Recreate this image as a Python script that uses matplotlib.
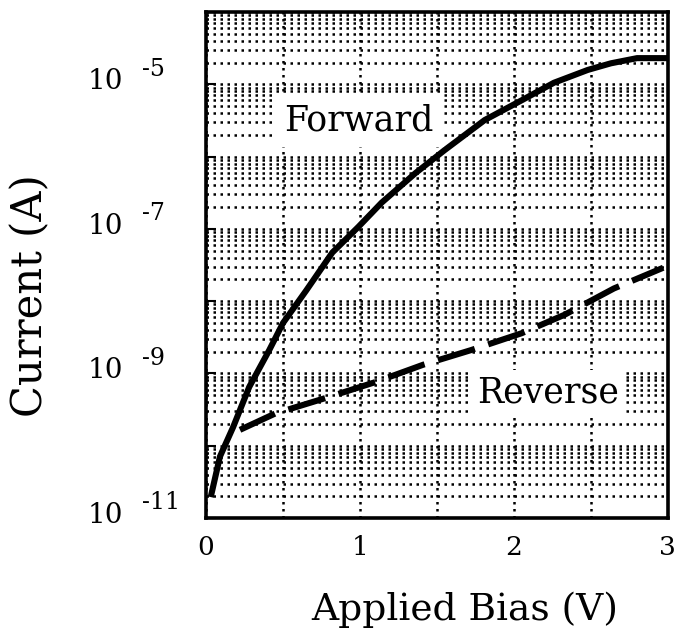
import numpy as np
import matplotlib.pyplot as plt
from matplotlib.ticker import LogLocator, MultipleLocator, NullFormatter

# values
bias_fwd = [0.03, 0.09, 0.175, 0.28, 0.41, 0.50, 0.65, 0.82, 0.99, 1.14,
            1.36, 1.55, 1.81, 2.05, 2.26, 2.48, 2.63, 2.80, 3.0]
cur_fwd = [1.95e-11, 7.1e-11, 1.8e-10, 6.5e-10, 2.1e-9, 5.0e-9, 1.4e-8, 4.7e-8,
           1.07e-7, 2.3e-7, 5.9e-7, 1.23e-6, 3.2e-6, 6.0e-6, 1.05e-5, 1.58e-5,
           1.95e-5, 2.3e-5, 2.3e-5]

bias_rev = [0.22, 0.45, 0.78, 1.10, 1.41, 1.72, 2.05, 2.33, 2.65, 2.97]
cur_rev = [1.66e-10, 2.8e-10, 4.6e-10, 7.6e-10, 1.32e-9, 2.1e-9, 3.6e-9,
           6.5e-9, 1.5e-8, 2.9e-8]

xticks = [0, 1, 2, 3]
ylabel_exps = [-5, -7, -9, -11]

serif = 'DejaVu Serif'
plt.rcParams['font.family'] = serif

fig = plt.figure(figsize=(6.78, 6.31), dpi=100)
ax = fig.add_axes([0.304, 0.179, 0.681, 0.802])
ax.set_yscale('log')
ax.set_xlim(0, 3)
ax.set_ylim(1e-11, 1e-4)

# grid: every decade and sub-decade line, verticals every 0.5 V
ax.yaxis.set_major_locator(LogLocator(base=10, numticks=20))
ax.yaxis.set_minor_locator(LogLocator(base=10, subs=np.arange(2, 10), numticks=20))
ax.yaxis.set_major_formatter(NullFormatter())
ax.yaxis.set_minor_formatter(NullFormatter())
ax.set_xticks(xticks)
ax.xaxis.set_minor_locator(MultipleLocator(0.5))
dots = (0, (1, 1.8))
ax.grid(which='both', axis='both', color='black', linestyle=dots, linewidth=1.8)

ax.tick_params(which='minor', length=0)
ax.tick_params(axis='y', which='major', direction='in', length=7, width=1.5)
ax.tick_params(axis='x', which='major', direction='in', length=0, pad=12,
               labelsize=19)
for sp in ax.spines.values():
    sp.set_linewidth(2.6)

ax.plot(bias_fwd, cur_fwd, color='black', linewidth=4.4, solid_capstyle='butt')
ax.plot(bias_rev, cur_rev, color='black', linewidth=4.4, dashes=(6.3, 2.3))

# y tick labels written as "10" with a raised exponent
for e in ylabel_exps:
    ax.annotate('10', xy=(0, 10.0 ** e), xycoords=('axes fraction', 'data'),
                xytext=(-60, 2), textcoords='offset points',
                ha='right', va='center', fontsize=20)
    ax.annotate(str(e), xy=(0, 10.0 ** e), xycoords=('axes fraction', 'data'),
                xytext=(-46, 11), textcoords='offset points',
                ha='left', va='center', fontsize=17)

ax.text(0.51, 3.2e-6, 'Forward', fontsize=25, ha='left', va='center', zorder=5,
        bbox=dict(facecolor='white', edgecolor='none', pad=7))
ax.text(1.76, 5.5e-10, 'Reverse', fontsize=25, ha='left', va='center', zorder=5,
        bbox=dict(facecolor='white', edgecolor='none', pad=4))

ax.set_xlabel('Applied Bias (V)', fontsize=27)
ax.xaxis.set_label_coords(0.56, -0.145)
ax.set_ylabel('Current (A)', fontsize=30)
ax.yaxis.set_label_coords(-0.335, 0.44)

fig.savefig('out.png', dpi=100)
